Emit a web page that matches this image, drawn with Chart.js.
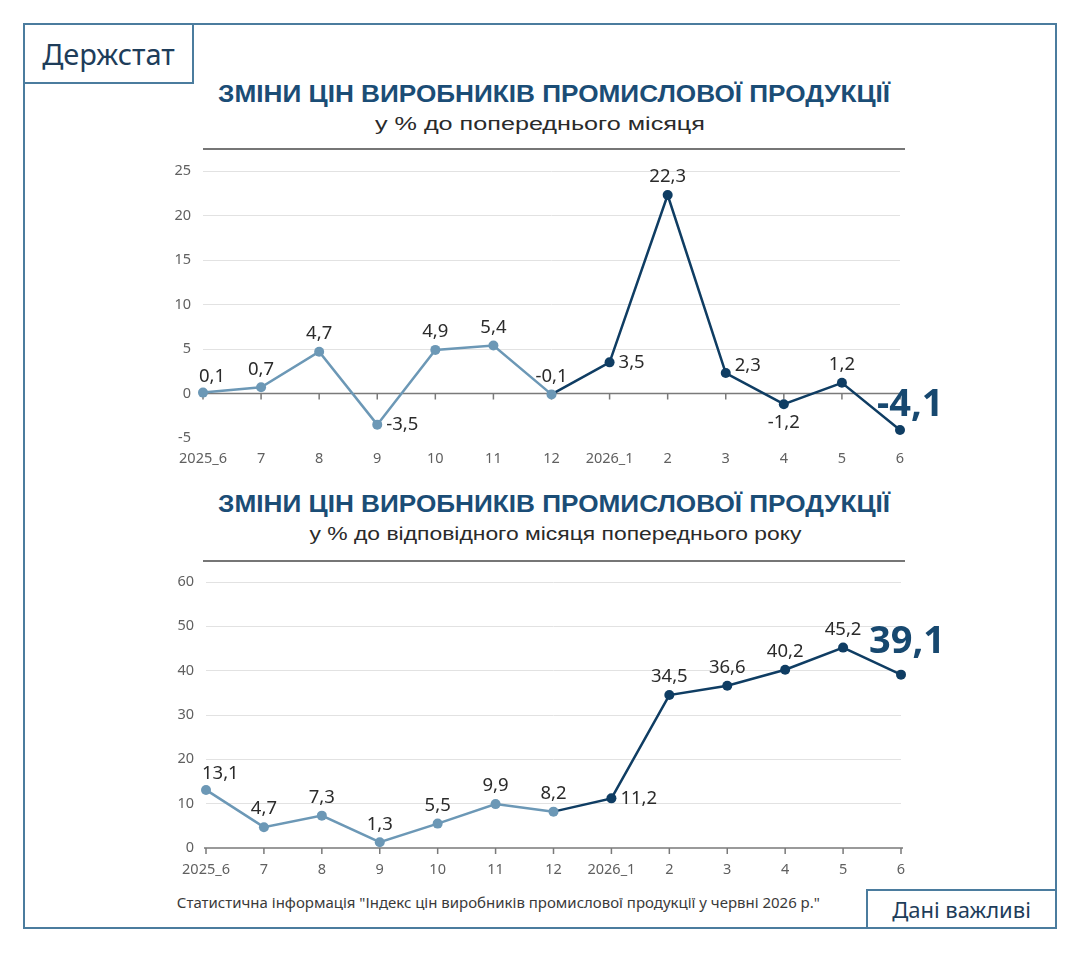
<!DOCTYPE html>
<html>
<head>
<meta charset="utf-8">
<script src="https://cdn.jsdelivr.net/npm/chart.js@4.4.1/dist/chart.umd.min.js"></script>
<style>
body { margin: 0; width: 1080px; height: 953px; background: #fff; position: relative; overflow: hidden; font-family: "Liberation Sans", Arial, sans-serif; }
.abs { position: absolute; }
.frame { left: 23px; top: 23px; width: 1034px; height: 906px; border: 2px solid #4b7c9e; box-sizing: border-box; }
.box { border: 2px solid #4b7c9e; box-sizing: border-box; background: #fff; color: #1e3d5a; display: flex; align-items: center; justify-content: center; font-family: "Noto Sans", sans-serif; }
.title { left: 150px; width: 810px; text-align: center; color: #1b4d76; font-weight: bold; font-size: 24px; white-space: nowrap; }
.sub { left: 150px; width: 810px; text-align: center; color: #2a2a2a; font-size: 18px; white-space: nowrap; }
.fit { display: inline-block; transform-origin: center; }
.rule { height: 2px; background: #767676; }
canvas { position: absolute; }
</style>
</head>
<body>
<div class="abs frame"></div>
<div class="abs box" style="left:23px;top:23px;width:171px;height:61px;font-size:29px;">Держстат</div>

<div class="abs title" style="top:80px;left:218px;width:672px;"><span class="fit" data-w="672">ЗМІНИ ЦІН ВИРОБНИКІВ ПРОМИСЛОВОЇ ПРОДУКЦІЇ</span></div>
<div class="abs sub" style="top:114px;left:375px;width:330px;"><span class="fit" data-w="330">у % до попереднього місяця</span></div>
<div class="abs rule" style="left:203px;top:148px;width:702px;"></div>
<canvas id="mom" width="810" height="320" style="left:150px;top:150px;"></canvas>

<div class="abs title" style="top:490px;left:218px;width:672px;"><span class="fit" data-w="672">ЗМІНИ ЦІН ВИРОБНИКІВ ПРОМИСЛОВОЇ ПРОДУКЦІЇ</span></div>
<div class="abs sub" style="top:524px;left:309px;width:492px;"><span class="fit" data-w="492">у % до відповідного місяця попереднього року</span></div>
<div class="abs rule" style="left:203px;top:560px;width:702px;"></div>
<canvas id="yoy" width="810" height="320" style="left:150px;top:560px;"></canvas>

<div class="abs sub" style="top:893px;left:177px;width:643px;font-size:14px;color:#3a3a3a;font-family:'Noto Sans',sans-serif;"><span class="fit" data-w="643">Статистична інформація "Індекс цін виробників промислової продукції у червні 2026 р."</span></div>
<div class="abs box" style="left:866px;top:889px;width:191px;height:40px;font-size:22px;">Дані важливі</div>

<script>
// months along the x axis
var months = ['2025_6', '7', '8', '9', '10', '11', '12', '2026_1', '2', '3', '4', '5', '6'];

// % to previous month
var momValues = [0.1, 0.7, 4.7, -3.5, 4.9, 5.4, -0.1, 3.5, 22.3, 2.3, -1.2, 1.2, -4.1];
var momTicks = [-5, 0, 5, 10, 15, 20, 25];

// % to same month of previous year
var yoyValues = [13.1, 4.7, 7.3, 1.3, 5.5, 9.9, 8.2, 11.2, 34.5, 36.6, 40.2, 45.2, 39.1];
var yoyTicks = [0, 10, 20, 30, 40, 50, 60];

// where each value label sits relative to its point
var momLabelPos = ['tr', 't', 't', 'r', 't', 't', 't', 'r', 't', 'ru', 'b', 't', 'big'];
var yoyLabelPos = ['tr', 't', 't', 't', 't', 't', 't', 'r', 't', 't', 't', 't', 'big'];

var light = '#6c98b6';
var dark = '#0f3d63';
var splitIdx = months.indexOf('2026_1');

function fmt(v) {
    return v.toFixed(1).replace('.', ',');
}

// stretch/squeeze text spans to the width they take in the picture
var spans = document.querySelectorAll('.fit');
for (var i = 0; i < spans.length; i++) {
    var s = spans[i];
    var w = s.getBoundingClientRect().width;
    s.style.transform = 'scaleX(' + (parseFloat(s.getAttribute('data-w')) / w) + ')';
}

var zeroLine = {
    id: 'zeroLine',
    beforeDatasetsDraw: function(chart) {
        var ctx = chart.ctx;
        var area = chart.chartArea;
        var x = chart.scales.x;
        var y0 = chart.scales.y.getPixelForValue(0);
        ctx.save();
        ctx.strokeStyle = '#7a7a7a';
        ctx.lineWidth = 1.5;
        ctx.beginPath();
        ctx.moveTo(area.left - 2, y0);
        ctx.lineTo(area.right + 2, y0);
        for (var i = 0; i < chart.data.labels.length; i++) {
            var px = x.getPixelForValue(i);
            ctx.moveTo(px, y0);
            ctx.lineTo(px, y0 + 6);
        }
        ctx.stroke();
        ctx.restore();
    }
};

var pointLabels = {
    id: 'pointLabels',
    afterDatasetsDraw: function(chart, args, opts) {
        var ctx = chart.ctx;
        var meta = chart.getDatasetMeta(0);
        var vals = chart.data.datasets[0].data;
        ctx.save();
        ctx.textBaseline = 'middle';
        for (var i = 0; i < meta.data.length; i++) {
            var p = meta.data[i];
            var pos = opts.pos[i];
            var txt = fmt(vals[i]);
            ctx.fillStyle = '#2b2b2b';
            ctx.font = '18.5px "Noto Sans", sans-serif';
            if (pos == 't') {
                ctx.textAlign = 'center';
                ctx.fillText(txt, p.x, p.y - 18);
            } else if (pos == 'b') {
                ctx.textAlign = 'center';
                ctx.fillText(txt, p.x, p.y + 19);
            } else if (pos == 'r') {
                ctx.textAlign = 'left';
                ctx.fillText(txt, p.x + 9, p.y);
            } else if (pos == 'ru') {
                ctx.textAlign = 'left';
                ctx.fillText(txt, p.x + 9, p.y - 7);
            } else if (pos == 'tr') {
                ctx.textAlign = 'left';
                ctx.fillText(txt, p.x - 4, p.y - 16);
            } else if (pos == 'big') {
                ctx.textAlign = 'left';
                ctx.fillStyle = '#17486f';
                ctx.font = 'bold 38px "Noto Sans", sans-serif';
                ctx.fillText(txt, p.x + opts.bigDx, p.y + opts.bigDy);
            }
        }
        ctx.restore();
    }
};

function lineChart(id, values, ticks, labelPos, box) {
    var ctx = document.getElementById(id).getContext('2d');
    return new Chart(ctx, {
        type: 'line',
        data: {
            labels: months,
            datasets: [{
                data: values,
                borderColor: light,
                borderWidth: 2.5,
                pointRadius: 5,
                pointHoverRadius: 5,
                pointBorderWidth: 0,
                pointBackgroundColor: function(c) { return c.dataIndex >= splitIdx ? dark : light; },
                segment: {
                    borderColor: function(c) { return c.p1DataIndex >= splitIdx ? dark : light; }
                },
                tension: 0,
                clip: false
            }]
        },
        options: {
            responsive: false,
            animation: false,
            devicePixelRatio: 1,
            layout: { padding: { top: box.top, right: box.right, left: 0, bottom: 0 } },
            plugins: {
                legend: { display: false },
                tooltip: { enabled: false },
                pointLabels: { pos: labelPos, bigDx: box.bigDx, bigDy: box.bigDy }
            },
            scales: {
                x: {
                    offset: false,
                    grid: { display: false, drawTicks: false },
                    border: { display: false },
                    ticks: { color: '#606060', padding: box.xPad, font: { family: 'Noto Sans', size: 14.5 }, maxRotation: 0, autoSkip: false },
                    afterFit: function(s) { s.height = 32; }
                },
                y: {
                    min: ticks[0],
                    max: ticks[ticks.length - 1],
                    afterBuildTicks: function(s) { s.ticks = ticks.map(function(v) { return { value: v }; }); },
                    grid: {
                        drawTicks: false,
                        color: function(c) { return (c.tick.value === 0 || c.tick.value === ticks[0]) ? 'rgba(0,0,0,0)' : '#e2e2e2'; }
                    },
                    border: { display: false },
                    ticks: { color: '#606060', padding: 12, font: { family: 'Noto Sans', size: 14.5 } },
                    afterFit: function(s) { s.width = box.yWidth; }
                }
            }
        },
        plugins: [zeroLine, pointLabels]
    });
}

lineChart('mom', momValues, momTicks, momLabelPos, { top: 21, right: 60, yWidth: 53, xPad: 12, bigDx: -23, bigDy: -25 });
lineChart('yoy', yoyValues, yoyTicks, yoyLabelPos, { top: 22, right: 59, yWidth: 56, xPad: 13, bigDx: -32, bigDy: -32 });
</script>
</body>
</html>
